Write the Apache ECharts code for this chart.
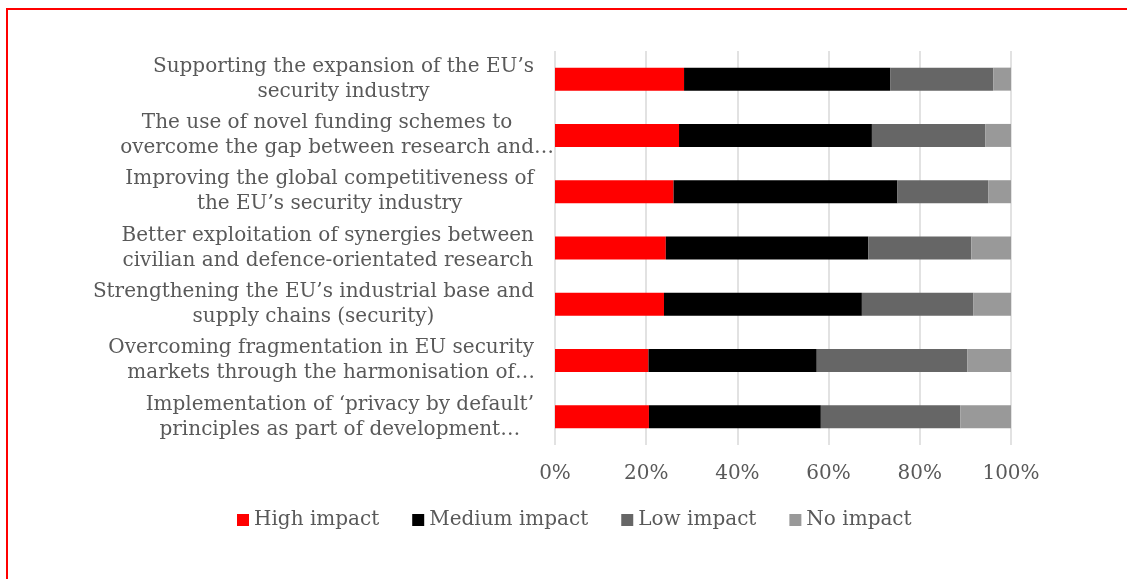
<!DOCTYPE html>
<html>
<head>
<meta charset="utf-8">
<script src="https://cdn.jsdelivr.net/npm/echarts@6/dist/echarts.min.js"></script>
<style>
  html, body { margin: 0; padding: 0; background: #fff; }
  #chart { width: 1127px; height: 579px; }
</style>
</head>
<body>
<div id="chart"></div>
<script>
// Perceived impact of each objective, share of respondents (%)
const categories = [
  "Supporting the expansion of the EU\u2019s\nsecurity industry",
  "The use of novel funding schemes to\novercome the gap between research and\u2026",
  "Improving the global competitiveness of\nthe EU\u2019s security industry",
  "Better exploitation of synergies between\ncivilian and defence-orientated research",
  "Strengthening the EU\u2019s industrial base and\nsupply chains (security)",
  "Overcoming fragmentation in EU security\nmarkets through the harmonisation of\u2026",
  "Implementation of \u2018privacy by default\u2019\nprinciples as part of development\u2026"
];
const highImpact   = [28.3, 27.2, 26.0, 24.3, 23.9, 20.5, 20.6];
const mediumImpact = [45.2, 42.3, 49.1, 44.4, 43.4, 36.9, 37.7];
const lowImpact    = [22.6, 24.9, 19.9, 22.6, 24.4, 33.0, 30.6];
const noImpact     = [3.9, 5.6, 5.0, 8.7, 8.3, 9.6, 11.1];
const xTicks = [0, 20, 40, 60, 80, 100];
// Labels whose truncation mark hangs outside the centred text
const hangingEllipsis = [1, 5];

const FONT = "DejaVu Serif";
const SIZE = 20;
const TEXT = "#595959";

// width of the ellipsis glyph, used to let it hang past the line
const ctx = document.createElement("canvas").getContext("2d");
ctx.font = SIZE + "px '" + FONT + "'";
const ELL_W = ctx.measureText("\u2026").width;

const seriesDefs = [
  { name: "High impact", data: highImpact, color: "#ff0000" },
  { name: "Medium impact", data: mediumImpact, color: "#000000" },
  { name: "Low impact", data: lowImpact, color: "#666666" },
  { name: "No impact", data: noImpact, color: "#999999" }
];

function categoryLabel(value, index) {
  const hang = hangingEllipsis.indexOf(index) >= 0;
  return value.split("\n").map(function (line) {
    if (hang && line.endsWith("\u2026")) {
      return "{t|" + line.slice(0, -1) + "}{e|\u2026}";
    }
    return "{t|" + line + "}";
  }).join("\n");
}

const labelText = { fontFamily: FONT, fontSize: SIZE, lineHeight: 25, color: TEXT };

const chart = echarts.init(document.getElementById("chart"), null, { renderer: "canvas" });
chart.setOption({
  animation: false,
  backgroundColor: "#ffffff",
  textStyle: { fontFamily: FONT },
  graphic: [{
    type: "rect",
    shape: { x: 7, y: 9, width: 1300, height: 800 },
    style: { fill: null, stroke: "#ff0000", lineWidth: 2 },
    silent: true
  }],
  grid: { left: 555, right: 116, top: 51, bottom: 134, containLabel: false },
  legend: {
    data: seriesDefs.map(s => s.name),
    left: 237,
    top: 510,
    padding: 0,
    icon: "rect",
    itemWidth: 12,
    itemHeight: 12,
    itemGap: 33,
    textStyle: { fontFamily: FONT, fontSize: SIZE, color: TEXT }
  },
  xAxis: {
    type: "value",
    min: xTicks[0],
    max: xTicks[xTicks.length - 1],
    interval: 20,
    axisLine: { show: false },
    axisTick: { show: false },
    splitLine: { show: true, lineStyle: { color: "#d9d9d9", width: 1.5 } },
    axisLabel: { formatter: "{value}%", fontFamily: FONT, fontSize: SIZE, color: TEXT, margin: 19 }
  },
  yAxis: {
    type: "category",
    inverse: true,
    data: categories,
    axisLine: { show: false },
    axisTick: { show: false },
    axisLabel: {
      formatter: categoryLabel,
      margin: 21,
      align: "right",
      fontFamily: FONT, fontSize: SIZE, lineHeight: 25, color: TEXT,
      rich: {
        t: Object.assign({ align: "center" }, labelText),
        e: Object.assign({ align: "center", width: 0, padding: [0, -ELL_W / 2, 0, ELL_W / 2] }, labelText)
      }
    }
  },
  series: seriesDefs.map(s => ({
    name: s.name,
    type: "bar",
    stack: "total",
    data: s.data,
    barWidth: 23,
    itemStyle: { color: s.color },
    emphasis: { disabled: true }
  }))
});
</script>
</body>
</html>
